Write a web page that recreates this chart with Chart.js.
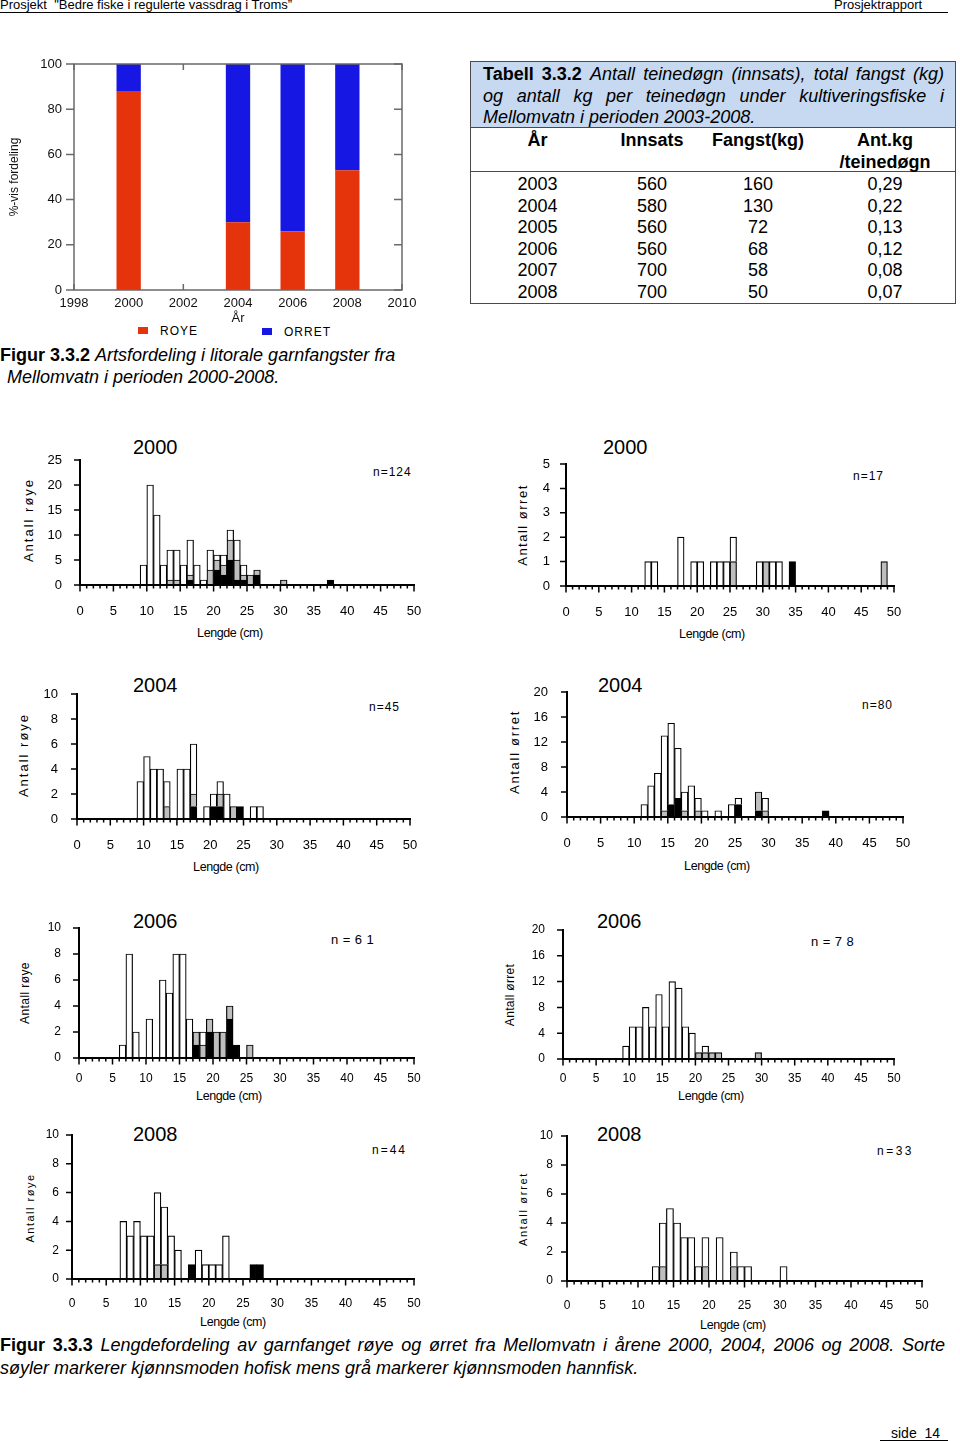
<!DOCTYPE html>
<html lang="no">
<head>
<meta charset="utf-8">
<title>Mellomvatn – artsfordeling og lengdefordeling</title>
<script src="https://cdn.jsdelivr.net/npm/chart.js@4.4.1/dist/chart.umd.min.js"></script>
<style>
  html, body { margin: 0; padding: 0; background: #fff; }
  body { width: 960px; height: 1441px; position: relative; overflow: hidden; font-family: "Liberation Sans", Arial, sans-serif; color: #000; }
  canvas { position: absolute; }
  .abs { position: absolute; white-space: nowrap; }
  .hode { font-size: 13px; line-height: 13px; }
  .aar { font-size: 20px; line-height: 20px; }
  .n { font-size: 12px; line-height: 12px; letter-spacing: 1px; }
  .yt { font-size: 13px; line-height: 13px; letter-spacing: 2px; transform: translate(-50%, -50%) rotate(-90deg); }
  .xt { font-size: 12.5px; line-height: 13px; letter-spacing: -0.4px; transform: translateX(-50%); }
  .cap { font-size: 18px; line-height: 22px; }
  .just { text-align: justify; text-align-last: justify; white-space: nowrap; }
  .leg { font-size: 12px; line-height: 12px; letter-spacing: 1px; }
  .boks { position: absolute; width: 10px; height: 7px; }
  #tabell { position: absolute; left: 470px; top: 61px; width: 486px; height: 243px; box-sizing: border-box; border: 1.5px solid #4a4a4a; font-size: 18px; }
  #tabell .tittel { background: #c6d9f1; height: 66px; box-sizing: border-box; padding: 2px 11px 0 12px; line-height: 21.5px; border-bottom: 1.5px solid #4a4a4a; }
  #tabell .rad { display: grid; grid-template-columns: 133px 96px 116px 138px; text-align: center; }
  #tabell .kol { height: 44px; line-height: 22px; padding-top: 1px; font-weight: bold; border-bottom: 1.5px solid #4a4a4a; box-sizing: border-box; }
  #tabellRader { padding-top: 2px; }
  #tabell .data { height: 21.6px; line-height: 21.6px; }
</style>
</head>
<body>

<div class="abs hode" style="left:0;top:-2px">Prosjekt &nbsp;"Bedre fiske i regulerte vassdrag i Troms”</div>
<div class="abs hode" style="left:834px;top:-2px">Prosjektrapport</div>
<div class="abs" style="left:0;top:12px;width:948px;height:1px;background:#000"></div>

<div id="tabell">
  <div class="tittel">
    <div class="just"><b>Tabell 3.3.2</b> <i>Antall teinedøgn (innsats), total fangst (kg)</i></div>
    <div class="just"><i>og antall kg per teinedøgn under kultiveringsfiske i</i></div>
    <div><i>Mellomvatn i perioden 2003-2008.</i></div>
  </div>
  <div class="rad kol"><div>År</div><div>Innsats</div><div>Fangst(kg)</div><div>Ant.kg<br>/teinedøgn</div></div>
  <div id="tabellRader"></div>
</div>

<div class="boks" style="left:138px;top:327px;background:#e5330b"></div>
<div class="abs leg" style="left:160px;top:325px">ROYE</div>
<div class="boks" style="left:262px;top:328px;background:#1717e3"></div>
<div class="abs leg" style="left:284px;top:326px">ORRET</div>

<div class="abs cap" style="left:0;top:344px">
  <div><b>Figur 3.3.2</b> <i>Artsfordeling i litorale garnfangster fra</i></div>
  <div style="padding-left:7px"><i>Mellomvatn i perioden 2000-2008.</i></div>
</div>

<div class="abs aar" style="left:133px;top:437px">2000</div>
<div class="abs aar" style="left:603px;top:437px">2000</div>
<div class="abs aar" style="left:133px;top:675px">2004</div>
<div class="abs aar" style="left:598px;top:675px">2004</div>
<div class="abs aar" style="left:133px;top:911px">2006</div>
<div class="abs aar" style="left:597px;top:911px">2006</div>
<div class="abs aar" style="left:133px;top:1124px">2008</div>
<div class="abs aar" style="left:597px;top:1124px">2008</div>

<div class="abs n" style="left:373px;top:466px">n=124</div>
<div class="abs n" style="left:853px;top:470px">n=17</div>
<div class="abs n" style="left:369px;top:701px">n=45</div>
<div class="abs n" style="left:862px;top:699px">n=80</div>
<div class="abs n" style="left:331px;top:934px;font-size:13px;letter-spacing:4.5px">n=61</div>
<div class="abs n" style="left:811px;top:936px;font-size:13px;letter-spacing:4.5px">n=78</div>
<div class="abs n" style="left:372px;top:1144px;letter-spacing:2px">n=44</div>
<div class="abs n" style="left:877px;top:1145px;letter-spacing:2.5px">n=33</div>

<div class="abs yt" style="left:28px;top:520px">Antall røye</div>
<div class="abs yt" style="left:522px;top:525px;letter-spacing:1.5px">Antall ørret</div>
<div class="abs yt" style="left:23px;top:755px">Antall røye</div>
<div class="abs yt" style="left:514px;top:752px;letter-spacing:1.7px">Antall ørret</div>
<div class="abs yt" style="left:25px;top:993px;font-size:12px;letter-spacing:0.4px">Antall røye</div>
<div class="abs yt" style="left:510px;top:995px;font-size:12px;letter-spacing:0.3px">Antall ørret</div>
<div class="abs yt" style="left:30px;top:1208px;font-size:11px;letter-spacing:1.5px">Antall røye</div>
<div class="abs yt" style="left:523px;top:1209px;font-size:11px;letter-spacing:1.7px">Antall ørret</div>

<div class="abs xt" style="left:230px;top:627px">Lengde (cm)</div>
<div class="abs xt" style="left:712px;top:628px">Lengde (cm)</div>
<div class="abs xt" style="left:226px;top:861px">Lengde (cm)</div>
<div class="abs xt" style="left:717px;top:860px">Lengde (cm)</div>
<div class="abs xt" style="left:229px;top:1090px">Lengde (cm)</div>
<div class="abs xt" style="left:711px;top:1090px">Lengde (cm)</div>
<div class="abs xt" style="left:233px;top:1316px">Lengde (cm)</div>
<div class="abs xt" style="left:733px;top:1319px">Lengde (cm)</div>

<div class="abs cap" style="left:0;top:1334px;width:945px;line-height:23px">
  <div class="just"><b>Figur 3.3.3</b> <i>Lengdefordeling av garnfanget røye og ørret fra Mellomvatn i årene 2000, 2004, 2006 og 2008. Sorte</i></div>
  <div><i>søyler markerer kjønnsmoden hofisk mens grå markerer kjønnsmoden hannfisk.</i></div>
</div>

<div class="abs" style="left:891px;top:1426px;font-size:14px;line-height:14px">side &nbsp;14</div>
<div class="abs" style="left:880px;top:1440px;width:68px;height:1px;background:#000"></div>

<script>
// Tabell 3.3.2
var tabAar = [2003, 2004, 2005, 2006, 2007, 2008];
var tabInnsats = [560, 580, 560, 560, 700, 700];
var tabFangst = [160, 130, 72, 68, 58, 50];
var tabKgPerDogn = ['0,29', '0,22', '0,13', '0,12', '0,08', '0,07'];

// Figur 3.3.2 – artsfordeling (%)
var artAar = [2000, 2004, 2006, 2008];
var royePst = [88, 30, 26, 53];
var orretPst = [12, 70, 74, 47];
var artTicksAar = [1998, 2010, 2];   // min, max, steg

// Figur 3.3.3 – lengdefordeling, 1 cm-klasser (nedre grense i cm)
// hvit = umoden, graa = kjønnsmoden hannfisk, sort = kjønnsmoden hofisk
var royeLen2000  = [9, 10, 11, 12, 13, 14, 15, 16, 17, 18, 19, 20, 21, 22, 23, 24, 25, 26, 30, 37];
var royeHvit2000 = [4, 20, 14, 4, 6, 6, 4, 7, 4, 1, 4, 1, 2, 2, 4, 2, 0, 0, 0, 0];
var royeGraa2000 = [0, 0, 0, 0, 1, 1, 0, 1, 0, 0, 3, 2, 2, 4, 4, 1, 2, 1, 1, 0];
var royeSort2000 = [0, 0, 0, 0, 0, 0, 0, 1, 0, 0, 0, 3, 2, 5, 1, 1, 0, 2, 0, 1];

var orretLen2000  = [12, 13, 17, 19, 20, 22, 23, 24, 25, 29, 30, 31, 32, 34, 48];
var orretHvit2000 = [1, 1, 2, 1, 1, 1, 1, 1, 1, 1, 0, 1, 1, 0, 0];
var orretGraa2000 = [0, 0, 0, 0, 0, 0, 0, 0, 1, 0, 1, 0, 0, 0, 1];
var orretSort2000 = [0, 0, 0, 0, 0, 0, 0, 0, 0, 0, 0, 0, 0, 1, 0];

var royeLen2004  = [9, 10, 11, 12, 13, 15, 16, 17, 19, 20, 21, 22, 23, 24, 26, 27];
var royeHvit2004 = [3, 5, 4, 4, 2, 4, 4, 4, 1, 1, 1, 2, 0, 0, 1, 1];
var royeGraa2004 = [0, 0, 0, 0, 1, 0, 0, 1, 0, 0, 1, 0, 1, 0, 0, 0];
var royeSort2004 = [0, 0, 0, 0, 0, 0, 0, 1, 0, 1, 1, 0, 0, 1, 0, 0];

var orretLen2004  = [11, 12, 13, 14, 15, 16, 17, 18, 19, 20, 22, 24, 25, 28, 29, 38];
var orretHvit2004 = [2, 5, 7, 12, 13, 8, 3, 5, 2, 1, 1, 2, 1, 0, 2, 0];
var orretGraa2004 = [0, 0, 0, 1, 0, 0, 1, 0, 1, 0, 0, 0, 0, 3, 1, 0];
var orretSort2004 = [0, 0, 0, 0, 2, 3, 0, 0, 0, 0, 0, 0, 2, 1, 0, 1];

var royeLen2006  = [6, 7, 8, 10, 12, 13, 14, 15, 16, 17, 18, 19, 20, 21, 22, 23, 25];
var royeHvit2006 = [1, 8, 2, 3, 6, 5, 8, 8, 3, 0, 1, 0, 0, 0, 0, 0, 0];
var royeGraa2006 = [0, 0, 0, 0, 0, 0, 0, 0, 0, 1, 1, 1, 2, 2, 1, 0, 1];
var royeSort2006 = [0, 0, 0, 0, 0, 0, 0, 0, 0, 1, 0, 2, 0, 0, 3, 1, 0];

var orretLen2006  = [9, 10, 11, 12, 13, 14, 15, 16, 17, 18, 19, 20, 21, 22, 23, 29];
var orretHvit2006 = [2, 5, 5, 8, 5, 10, 5, 12, 11, 5, 4, 0, 1, 0, 0, 0];
var orretGraa2006 = [0, 0, 0, 0, 0, 0, 0, 0, 0, 0, 0, 1, 1, 1, 1, 1];
var orretSort2006 = [0, 0, 0, 0, 0, 0, 0, 0, 0, 0, 0, 0, 0, 0, 0, 0];

var royeLen2008  = [7, 8, 9, 10, 11, 12, 13, 14, 15, 17, 18, 19, 20, 21, 22, 26, 27];
var royeHvit2008 = [4, 3, 4, 3, 3, 5, 4, 3, 2, 0, 2, 1, 1, 1, 3, 0, 0];
var royeGraa2008 = [0, 0, 0, 0, 0, 1, 1, 0, 0, 0, 0, 0, 0, 0, 0, 0, 0];
var royeSort2008 = [0, 0, 0, 0, 0, 0, 0, 0, 0, 1, 0, 0, 0, 0, 0, 1, 1];

var orretLen2008  = [12, 13, 14, 15, 16, 17, 18, 19, 21, 23, 24, 25, 30];
var orretHvit2008 = [1, 3, 5, 4, 3, 3, 1, 2, 3, 1, 1, 1, 1];
var orretGraa2008 = [0, 1, 0, 0, 0, 0, 0, 1, 0, 1, 0, 0, 0];
var orretSort2008 = [0, 0, 0, 0, 0, 0, 0, 0, 0, 0, 0, 0, 0];

var lengdeAkse = [0, 50, 5];   // min, max, steg (cm)

(function () {
  var FONT = '"Liberation Sans", Arial, sans-serif';

  // tabellrader
  var rader = document.getElementById('tabellRader');
  tabAar.forEach(function (a, i) {
    var r = document.createElement('div');
    r.className = 'rad data';
    r.innerHTML = '<div>' + a + '</div><div>' + tabInnsats[i] + '</div><div>' + tabFangst[i] + '</div><div>' + tabKgPerDogn[i] + '</div>';
    rader.appendChild(r);
  });

  function lerret(boks, v, t, h, b) {
    var c = document.createElement('canvas');
    var w = boks.right - boks.left + v + h;
    var hh = boks.bottom - boks.top + t + b;
    c.width = w; c.height = hh;
    c.style.left = (boks.left - v) + 'px';
    c.style.top = (boks.top - t) + 'px';
    c.style.width = w + 'px'; c.style.height = hh + 'px';
    document.body.appendChild(c);
    return c;
  }

  function punkter(len, verdier, midt) {
    var ut = [];
    for (var i = 0; i < len.length; i++) {
      if (verdier[i] > 0) ut.push({ x: len[i] + midt, y: verdier[i] });
    }
    return ut;
  }

  function tall(v) { return String(v); }

  // fast aksestørrelse, og ingen ekstra kantplass fra tick-etikettene
  function fastX(h) { return function (s) { s.height = h; s.paddingLeft = 0; s.paddingRight = 0; s.paddingTop = 0; s.paddingBottom = 0; }; }
  function fastY(w) { return function (s) { s.width = w; s.paddingLeft = 0; s.paddingRight = 0; s.paddingTop = 0; s.paddingBottom = 0; }; }

  // ---- Figur 3.3.2 ----
  var ramme = {
    id: 'ramme',
    beforeDatasetsDraw: function (chart) {
      var ctx = chart.ctx, a = chart.chartArea, x = chart.scales.x, y = chart.scales.y;
      ctx.save();
      ctx.strokeStyle = '#6a6a6a'; ctx.lineWidth = 1.5;
      ctx.beginPath();
      x.ticks.forEach(function (t) {
        var px = x.getPixelForValue(t.value);
        ctx.moveTo(px, a.bottom); ctx.lineTo(px, a.bottom - 6);
        ctx.moveTo(px, a.top); ctx.lineTo(px, a.top + 6);
      });
      y.ticks.forEach(function (t) {
        var py = y.getPixelForValue(t.value);
        ctx.moveTo(a.left - 8, py); ctx.lineTo(a.left, py);
        ctx.moveTo(a.right - 8, py); ctx.lineTo(a.right, py);
      });
      ctx.stroke();
      ctx.restore();
    },
    afterDatasetsDraw: function (chart) {
      var ctx = chart.ctx, a = chart.chartArea;
      ctx.save();
      ctx.strokeStyle = '#6a6a6a'; ctx.lineWidth = 1.5;
      ctx.strokeRect(a.left, a.top, a.right - a.left, a.bottom - a.top);
      ctx.restore();
    }
  };

  var artBoks = { left: 74, right: 402, top: 64, bottom: 290 };
  new Chart(lerret(artBoks, 74, 12, 20, 36), {
    type: 'bar',
    data: {
      datasets: [
        { label: 'ROYE', data: punkter(artAar, royePst, 0), backgroundColor: '#e5330b', borderWidth: 0, barPercentage: 0.445, categoryPercentage: 1 },
        { label: 'ORRET', data: punkter(artAar, orretPst, 0), backgroundColor: '#1717e3', borderWidth: 0, barPercentage: 0.445, categoryPercentage: 1 }
      ]
    },
    options: {
      responsive: false, animation: false, devicePixelRatio: 1, events: [],
      layout: { padding: { left: 0, top: 12, right: 20, bottom: 0 } },
      plugins: { legend: { display: false }, tooltip: { enabled: false } },
      scales: {
        x: {
          type: 'linear', stacked: true, offset: false, min: artTicksAar[0], max: artTicksAar[1],
          ticks: { stepSize: artTicksAar[2], padding: 6, color: '#111', maxRotation: 0, autoSkip: false, callback: tall, font: { family: FONT, size: 13 } },
          grid: { display: false, drawTicks: false, offset: false },
          border: { display: false },
          title: { display: true, text: 'År', color: '#111', font: { family: FONT, size: 13 }, padding: { top: 0, bottom: 0 } },
          afterFit: fastX(36)
        },
        y: {
          stacked: true, min: 0, max: 100,
          ticks: { stepSize: 20, padding: 12, color: '#111', callback: tall, font: { family: FONT, size: 13 } },
          grid: { display: false, drawTicks: false },
          border: { display: false },
          title: { display: true, text: '%-vis fordeling', color: '#111', font: { family: FONT, size: 12 }, padding: { top: 7, bottom: 0 } },
          afterFit: fastY(74)
        }
      }
    },
    plugins: [ramme]
  });

  // ---- Figur 3.3.3 ----
  var merker = {
    id: 'merker',
    afterDraw: function (chart) {
      var ctx = chart.ctx, a = chart.chartArea, x = chart.scales.x, y = chart.scales.y;
      ctx.save();
      ctx.strokeStyle = '#000'; ctx.lineWidth = 1.5;
      ctx.beginPath();
      for (var v = lengdeAkse[0]; v <= lengdeAkse[1]; v++) {
        var px = x.getPixelForValue(v);
        ctx.moveTo(px, a.bottom);
        ctx.lineTo(px, a.bottom + (v % lengdeAkse[2] === 0 ? 6.5 : 3.5));
      }
      y.ticks.forEach(function (t) {
        var py = y.getPixelForValue(t.value);
        ctx.moveTo(a.left - 6, py); ctx.lineTo(a.left, py);
      });
      ctx.stroke();
      ctx.restore();
    }
  };

  var figurer = [
    { boks: { left: 80, right: 414, top: 460, bottom: 585 }, len: royeLen2000, hvit: royeHvit2000, graa: royeGraa2000, sort: royeSort2000, yMax: 25, ySteg: 5, font: 13, xPad: 19, yPad: 18 },
    { boks: { left: 566, right: 894, top: 464, bottom: 586 }, len: orretLen2000, hvit: orretHvit2000, graa: orretGraa2000, sort: orretSort2000, yMax: 5, ySteg: 1, font: 13, xPad: 19, yPad: 16 },
    { boks: { left: 77, right: 410, top: 694, bottom: 819 }, len: royeLen2004, hvit: royeHvit2004, graa: royeGraa2004, sort: royeSort2004, yMax: 10, ySteg: 2, font: 13, xPad: 19, yPad: 19 },
    { boks: { left: 567, right: 903, top: 692, bottom: 817 }, len: orretLen2004, hvit: orretHvit2004, graa: orretGraa2004, sort: orretSort2004, yMax: 20, ySteg: 4, font: 13, xPad: 19, yPad: 19 },
    { boks: { left: 79, right: 414, top: 928, bottom: 1058 }, len: royeLen2006, hvit: royeHvit2006, graa: royeGraa2006, sort: royeSort2006, yMax: 10, ySteg: 2, font: 12, xPad: 13, yPad: 18 },
    { boks: { left: 563, right: 894, top: 930, bottom: 1059 }, len: orretLen2006, hvit: orretHvit2006, graa: orretGraa2006, sort: orretSort2006, yMax: 20, ySteg: 4, font: 12, xPad: 12, yPad: 18 },
    { boks: { left: 72, right: 414, top: 1135, bottom: 1279 }, len: royeLen2008, hvit: royeHvit2008, graa: royeGraa2008, sort: royeSort2008, yMax: 10, ySteg: 2, font: 12, xPad: 17, yPad: 13 },
    { boks: { left: 567, right: 922, top: 1136, bottom: 1281 }, len: orretLen2008, hvit: orretHvit2008, graa: orretGraa2008, sort: orretSort2008, yMax: 10, ySteg: 2, font: 12, xPad: 17, yPad: 14 }
  ];

  figurer.forEach(function (f) {
    var felles = { borderColor: '#000', borderWidth: 1.2, barPercentage: 1, categoryPercentage: 1 };
    new Chart(lerret(f.boks, 70, 12, 16, 40), {
      type: 'bar',
      data: {
        datasets: [
          Object.assign({ label: 'Kjønnsmoden hofisk', data: punkter(f.len, f.sort, 0.5), backgroundColor: '#000' }, felles),
          Object.assign({ label: 'Kjønnsmoden hannfisk', data: punkter(f.len, f.graa, 0.5), backgroundColor: '#bebebe' }, felles),
          Object.assign({ label: 'Umoden', data: punkter(f.len, f.hvit, 0.5), backgroundColor: '#fff' }, felles)
        ]
      },
      options: {
        responsive: false, animation: false, devicePixelRatio: 1, events: [],
        layout: { padding: { left: 0, top: 12, right: 16, bottom: 0 } },
        plugins: { legend: { display: false }, tooltip: { enabled: false } },
        scales: {
          x: {
            type: 'linear', stacked: true, offset: false, min: lengdeAkse[0], max: lengdeAkse[1],
            ticks: { stepSize: lengdeAkse[2], padding: f.xPad, color: '#000', maxRotation: 0, autoSkip: false, callback: tall, font: { family: FONT, size: f.font } },
            grid: { display: false, drawTicks: false, offset: false },
            border: { display: true, color: '#000', width: 2, z: 1 },
            afterFit: fastX(40)
          },
          y: {
            stacked: true, min: 0, max: f.yMax,
            ticks: { stepSize: f.ySteg, padding: f.yPad, color: '#000', callback: tall, font: { family: FONT, size: f.font } },
            grid: { display: false, drawTicks: false },
            border: { display: true, color: '#000', width: 2, z: 1 },
            afterFit: fastY(70)
          }
        }
      },
      plugins: [merker]
    });
  });
})();
</script>
</body>
</html>
